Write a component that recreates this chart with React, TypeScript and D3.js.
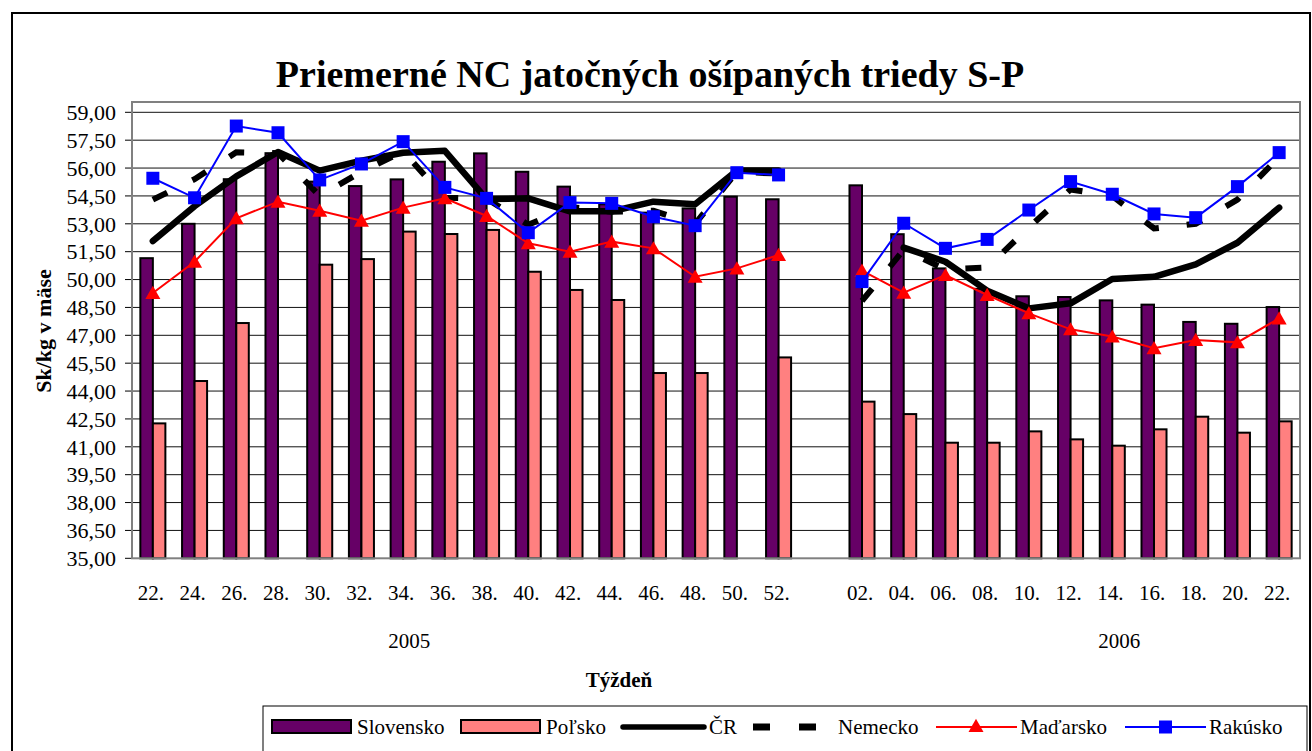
import React from "react";
import * as d3 from "d3";

const categories = ["22.","24.","26.","28.","30.","32.","34.","36.","38.","40.","42.","44.","46.","48.","50.","52.","","02.","04.","06.","08.","10.","12.","14.","16.","18.","20.","22."];
const yTicks = [35, 36.5, 38, 39.5, 41, 42.5, 44, 45.5, 47, 48.5, 50, 51.5, 53, 54.5, 56, 57.5, 59];
const years = ["2005", "2006"];
const yearAnchorIdx = [6, 23];

const slovensko = [51.15, 53.0, 55.4, 56.8, 55.27, 55.03, 55.39, 56.34, 56.79, 55.8, 55.0, 54.05, 53.6, 53.83, 54.46, 54.32, null, 55.07, 52.44, 50.6, 49.5, 49.1, 49.06, 48.88, 48.65, 47.72, 47.62, 48.52];
const polsko = [42.26, 44.54, 47.66, null, 50.8, 51.1, 52.58, 52.45, 52.67, 50.42, 49.44, 48.9, 44.97, 44.97, null, 45.81, null, 43.43, 42.76, 41.22, 41.22, 41.83, 41.4, 41.06, 41.94, 42.62, 41.76, 42.37];
const cr = [52.07, 53.95, 55.55, 56.86, 55.86, 56.4, 56.82, 56.93, 54.33, 54.37, 53.67, 53.67, 54.19, 54.05, 55.87, 55.87, null, null, 51.72, 50.96, 49.4, 48.45, 48.72, 50.03, 50.15, 50.82, 51.98, 53.87];
const nemecko = [54.3, 55.4, 56.85, 56.8, 54.5, 55.8, 56.9, 54.4, 54.35, 52.95, 53.9, 53.65, 53.7, 53.0, 55.8, 55.7, null, 48.85, 51.6, 50.55, 50.65, 52.8, 54.85, 54.5, 52.75, 53.0, 54.3, 56.6];
const madarsko = [49.28, 50.96, 53.3, 54.19, 53.7, 53.17, 53.87, 54.37, 53.42, 51.95, 51.5, 52.04, 51.68, 50.15, 50.6, 51.32, null, 50.48, 49.29, 50.24, 49.17, 48.18, 47.32, 46.93, 46.3, 46.75, 46.62, 47.91];
const rakusko = [55.45, 54.4, 58.26, 57.9, 55.36, 56.22, 57.42, 54.96, 54.37, 52.52, 54.14, 54.1, 53.38, 52.9, 55.75, 55.63, null, 49.89, 53.03, 51.68, 52.16, 53.74, 55.27, 54.59, 53.53, 53.33, 55.0, 56.83];

const FONT = "'Liberation Serif', 'Times New Roman', serif";
const PURPLE = "#660066";
const PINK = "#FF8080";

export default function App() {
  const W = 1312, H = 751;
  const left = 132, right = 1300, top = 102, bottom = 558.3;
  const idx = categories.map((_, i) => i);
  const x = d3.scaleBand<number>().domain(idx).range([left, right]).padding(0);
  const y = d3.scaleLinear().domain([35, 59]).range([bottom, 112.3]);
  const bw = x.bandwidth();
  const barW = bw * 0.3;
  const cx = (i: number) => (x(i) as number) + bw / 2;

  const line = (vals: (number | null)[]) =>
    d3.line<number | null>()
      .defined((d) => d != null)
      .x((_, i) => cx(i))
      .y((d) => y(d as number))(vals) || "";

  const triPath = (px: number, py: number, s = 15) =>
    `M${px},${py - s * 0.48}L${px + s / 2},${py + s * 0.4}L${px - s / 2},${py + s * 0.4}Z`;

  return (
    <svg width={W} height={H} style={{ position: "absolute", left: 0, top: 0, background: "#fff" }} fontFamily={FONT}>
      <rect x={12} y={13} width={1298} height={760} fill="#fff" stroke="#000" strokeWidth={2} />
      <text x={650} y={87} textAnchor="middle" fontSize={38} fontWeight="bold">Priemerné NC jatočných ošípaných triedy S-P</text>

      {/* plot area */}
      <rect x={left} y={top} width={right - left} height={bottom - top} fill="#fff" />
      {yTicks.map((t) => (
        <g key={t}>
          {t > 35 && <line x1={left} x2={right} y1={y(t)} y2={y(t)} stroke="#111" strokeWidth={1} />}
          <line x1={left - 7} x2={left} y1={y(t)} y2={y(t)} stroke="#000" strokeWidth={1} />
          <text x={116} y={y(t)} dy="0.35em" textAnchor="end" fontSize={22}>{t.toFixed(2).replace(".", ",")}</text>
        </g>
      ))}

      {/* bars */}
      {slovensko.map((v, i) => v == null ? null : (
        <rect key={"s" + i} x={cx(i) - barW} y={y(v)} width={barW} height={bottom - y(v)} fill={PURPLE} stroke="#000" strokeWidth={2} />
      ))}
      {polsko.map((v, i) => v == null ? null : (
        <rect key={"p" + i} x={cx(i)} y={y(v)} width={barW} height={bottom - y(v)} fill={PINK} stroke="#000" strokeWidth={2} />
      ))}

      {/* plot border */}
      <rect x={left} y={top} width={right - left} height={bottom - top} fill="none" stroke="#808080" strokeWidth={2} />

      {/* lines */}
      <path d={line(cr)} fill="none" stroke="#000" strokeWidth={6.5} strokeLinejoin="round" strokeLinecap="round" />
      <path d={line(nemecko)} fill="none" stroke="#000" strokeWidth={6} strokeDasharray="16 28" />
      <path d={line(madarsko)} fill="none" stroke="#FF0000" strokeWidth={2} />
      {madarsko.map((v, i) => v == null ? null : (
        <path key={"m" + i} d={triPath(cx(i), y(v))} fill="#FF0000" />
      ))}
      <path d={line(rakusko)} fill="none" stroke="#0000FF" strokeWidth={2} />
      {rakusko.map((v, i) => v == null ? null : (
        <rect key={"r" + i} x={cx(i) - 6.5} y={y(v) - 6.5} width={13} height={13} fill="#0000FF" />
      ))}

      {/* x labels */}
      {categories.map((c, i) => (
        <text key={"x" + i} x={cx(i) - 2} y={600} textAnchor="middle" fontSize={21}>{c}</text>
      ))}
      {years.map((yr, k) => (
        <text key={yr} x={cx(yearAnchorIdx[k]) + 6 + k} y={648} textAnchor="middle" fontSize={21}>{yr}</text>
      ))}
      <text x={619} y={687} textAnchor="middle" fontSize={21} fontWeight="bold">Týždeň</text>
      <text transform="translate(51,331) rotate(-90)" textAnchor="middle" fontSize={22} fontWeight="bold">Sk/kg v mäse</text>

      {/* legend */}
      <rect x={263} y={706} width={1044} height={50} fill="#fff" stroke="#000" strokeWidth={1} />
      <rect x={272} y={720} width={79} height={13} fill={PURPLE} stroke="#000" strokeWidth={2} />
      <text x={357} y={734} fontSize={21}>Slovensko</text>
      <rect x={461} y={720} width={79} height={13} fill={PINK} stroke="#000" strokeWidth={2} />
      <text x={546} y={734} fontSize={21}>Poľsko</text>
      <line x1={623} x2={704} y1={727} y2={727} stroke="#000" strokeWidth={5.5} strokeLinecap="round" />
      <text x={709} y={734} fontSize={21}>ČR</text>
      <line x1={753} x2={816} y1={727} y2={727} stroke="#000" strokeWidth={7} strokeDasharray="17 29" />
      <text x={838} y={734} fontSize={21}>Nemecko</text>
      <line x1={936} x2={1017} y1={727} y2={727} stroke="#FF0000" strokeWidth={2} />
      <path d={triPath(976, 726)} fill="#FF0000" />
      <text x={1020} y={734} fontSize={21}>Maďarsko</text>
      <line x1={1125} x2={1206} y1={727} y2={727} stroke="#0000FF" strokeWidth={2} />
      <rect x={1159} y={720.5} width={13} height={13} fill="#0000FF" />
      <text x={1209} y={734} fontSize={21}>Rakúsko</text>
    </svg>
  );
}
